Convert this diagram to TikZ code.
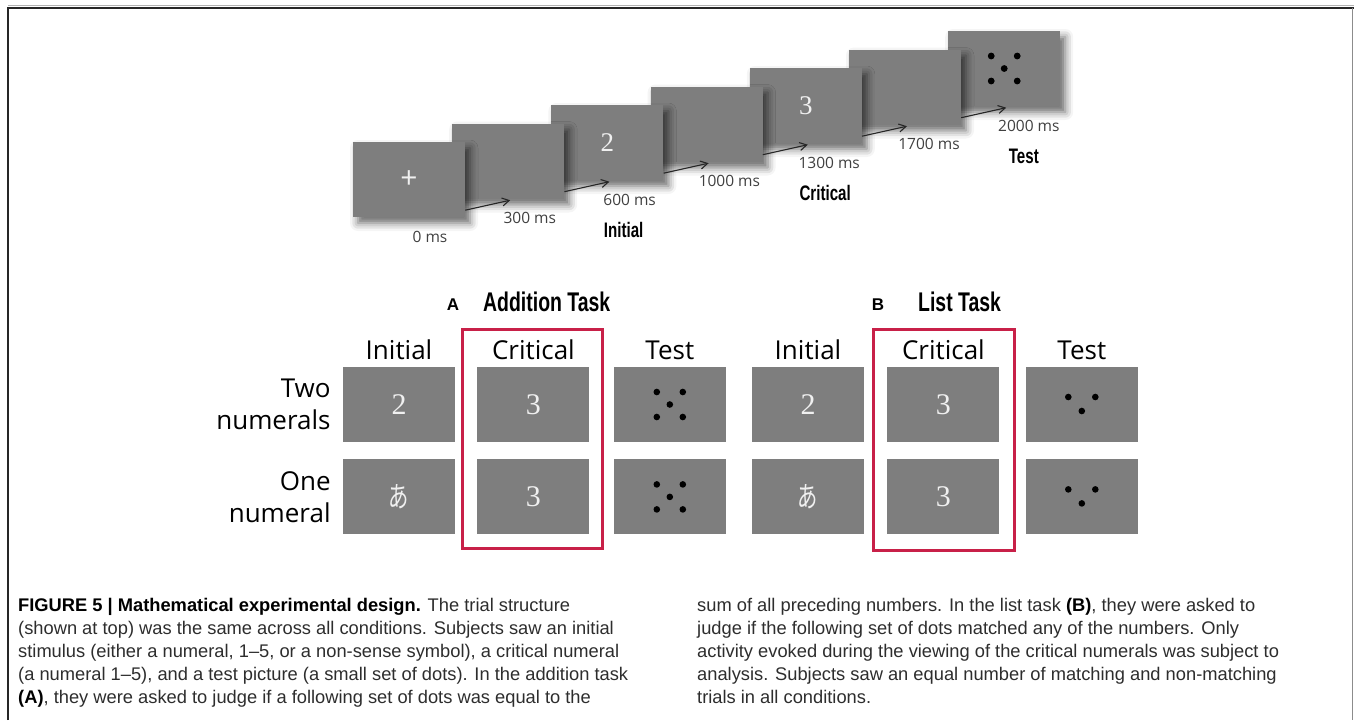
\documentclass[tikz,border=0pt]{standalone}
\usepackage{fontspec}
\usepackage{tikz}
\usepackage{xcolor}
\usetikzlibrary{arrows.meta,shadows.blur,positioning}
\setmainfont{Liberation Sans}
\newfontfamily\condfont[FakeStretch=0.72]{Liberation Sans}
\newfontfamily\headfont{Open Sans}
\newfontfamily\numfont{Liberation Serif}
\newfontfamily\jpfont{Noto Sans CJK JP}
\definecolor{slidegray}{RGB}{126,126,126}
\definecolor{critred}{RGB}{200,32,72}
\definecolor{captext}{RGB}{45,45,45}
\newcommand{\SlideW}{112}
\newcommand{\SlideH}{75}
\newcommand{\StepX}{99.2}
\newcommand{\StepY}{18.5}

\begin{document}
\begin{tikzpicture}[x=1pt,y=-1pt,
  >={Straight Barb[length=7pt,width=8pt]},
  slide/.style={fill=slidegray,minimum width=\SlideW pt,minimum height=\SlideH pt,inner sep=0pt,
    blur shadow={shadow xshift=5pt,shadow yshift=-6pt,shadow blur radius=8pt,shadow opacity=60}},
  cell/.style={fill=slidegray,minimum width=\SlideW pt,minimum height=\SlideH pt,inner sep=0pt},
  numtop/.style={text=white!94!black,font=\numfont\fontsize{27}{27}\selectfont},
  numcell/.style={text=white!94!black,font=\numfont\fontsize{30}{30}\selectfont},
  symcell/.style={text=white!94!black,font=\jpfont\fontsize{29}{29}\selectfont},
  flow/.style={->,black!85,line width=1.1pt},
  timelbl/.style={text=black!75,font=\headfont\fontsize{15.5}{16}\selectfont,anchor=base},
  phaselbl/.style={font=\condfont\bfseries\fontsize{21}{21}\selectfont,anchor=base},
  tasklbl/.style={font=\condfont\bfseries\fontsize{27}{27}\selectfont,anchor=base west,inner sep=0pt},
  panellbl/.style={font=\bfseries\fontsize{17}{17}\selectfont,anchor=base,inner sep=0pt},
  colhead/.style={font=\headfont\fontsize{26}{26}\selectfont,anchor=base,inner sep=0pt},
  rowlbl/.style={font=\headfont\fontsize{26}{32}\selectfont,align=right,inner sep=0pt},
  critline/.style={draw=critred,line width=3pt},
  captxt/.style={text=captext,font=\fontsize{18.3}{23}\selectfont,align=left,inner sep=0pt,anchor=base west}]
\useasboundingbox (0,0) rectangle (1354,720);

% frame
\draw[black!30,line width=0.8pt] (8,5.5) -- (1354,5.5);
\draw[black!85,line width=1.3pt] (8,720) -- (8,8) -- (1354,8);
\draw[black!45,line width=1pt] (1352.5,8) -- (1352.5,720);

% trial sequence, front slide drawn last
\foreach \i/\txt in {6/{},5/{},4/3,3/{},2/2,1/{},0/{\headfont\fontsize{30}{30}\selectfont+}}
  \node[slide,numtop] (s\i) at ({409+\StepX*\i},{179.5-\StepY*\i}) {\txt};
\foreach \dx/\dy in {-13/12.5,13/12.5,0/0,-13/-12.5,13/-12.5}
  \fill ([shift={(\dx pt,\dy pt)}]s6.center) circle (3.4pt);

\foreach \i in {0,...,5} {
  \coordinate (e\i) at ([shift={(45pt,17pt)}]s\i.south east);
  \draw[flow] ([yshift=7pt]s\i.south east) -- (e\i);
}
\foreach \i/\t in {0/0,1/300,2/600,3/1000,4/1300,5/1700,6/2000}
  \node[timelbl] (t\i) at ({430+99.8*\i},{242-\StepY*\i}) {\t\ ms};

\node[phaselbl] (pInit) at ([xshift=-6pt,yshift=-32pt]t2.base) {Initial};
\node[phaselbl] (pCrit) at ([xshift=-4pt,yshift=-32pt]t4.base) {Critical};
\node[phaselbl] (pTest) at ([xshift=-5pt,yshift=-32pt]t6.base) {Test};

% A: addition task
\node[panellbl] (aTag) at (453,310) {A};
\node[tasklbl] (aTitle) at (483,311) {Addition Task};
\node[cell,numcell] (aI1) at (399,404.5) {2};
\node[cell,numcell,right=22pt of aI1] (aC1) {3};
\node[cell,right=24pt of aC1] (aT1) {};
\node[cell,symcell,below=17pt of aI1] (aI2) {\scalebox{0.7}[1]{あ}};
\node[cell,numcell,right=22pt of aI2] (aC2) {3};
\node[cell,right=24pt of aC2] (aT2) {};
\node[rowlbl,left=12pt of aI1] (aRow1) {Two\\numerals};
\node[rowlbl,left=12pt of aI2] (aRow2) {One\\numeral};
\node[colhead] (aH1) at ([yshift=7pt]aI1.north) {Initial};
\node[colhead] (aH2) at ([yshift=7pt]aC1.north) {Critical};
\node[colhead] (aH3) at ([yshift=7pt]aT1.north) {Test};
\draw[critline] ([xshift=-15pt,yshift=37pt]aC1.north west) rectangle ([xshift=13pt,yshift=-14pt]aC2.south east);
\foreach \c in {aT1,aT2}
  \foreach \dx/\dy in {-13/12.5,13/12.5,0/0,-13/-12.5,13/-12.5}
    \fill ([shift={(\dx pt,\dy pt)}]\c.center) circle (3.3pt);

% B: list task
\node[panellbl] (bTag) at (878,310) {B};
\node[tasklbl] (bTitle) at (918,311) {List Task};
\node[cell,numcell] (bI1) at (808,404.5) {2};
\node[cell,numcell,right=23pt of bI1] (bC1) {3};
\node[cell,right=26pt of bC1] (bT1) {};
\node[cell,symcell,below=17pt of bI1] (bI2) {\scalebox{0.7}[1]{あ}};
\node[cell,numcell,right=23pt of bI2] (bC2) {3};
\node[cell,right=26pt of bC2] (bT2) {};
\node[colhead] (bH1) at ([yshift=7pt]bI1.north) {Initial};
\node[colhead] (bH2) at ([yshift=7pt]bC1.north) {Critical};
\node[colhead] (bH3) at ([yshift=7pt]bT1.north) {Test};
\draw[critline] ([xshift=-14pt,yshift=37pt]bC1.north west) rectangle ([xshift=15pt,yshift=-16pt]bC2.south east);
\foreach \c in {bT1,bT2}
  \foreach \dx/\dy in {-13.5/7.5,13.5/7.5,0/-6.5}
    \fill ([shift={(\dx pt,\dy pt)}]\c.center) circle (3.3pt);

% caption (base anchor sits on the last line)
\node[captxt] (capL) at (18,703) {{\color{black}\bfseries FIGURE 5 | Mathematical experimental design.} The trial structure\\
(shown at top) was the same across all conditions. Subjects saw an initial\\
stimulus (either a numeral, 1--5, or a non-sense symbol), a critical numeral\\
(a numeral 1--5), and a test picture (a small set of dots). In the addition task\\
{\color{black}\bfseries (A)}, they were asked to judge if a following set of dots was equal to the};
\node[captxt] (capR) at (697,703) {sum of all preceding numbers. In the list task {\color{black}\bfseries (B)}, they were asked to\\
judge if the following set of dots matched any of the numbers. Only\\
activity evoked during the viewing of the critical numerals was subject to\\
analysis. Subjects saw an equal number of matching and non-matching\\
trials in all conditions.};
\end{tikzpicture}
\end{document}
